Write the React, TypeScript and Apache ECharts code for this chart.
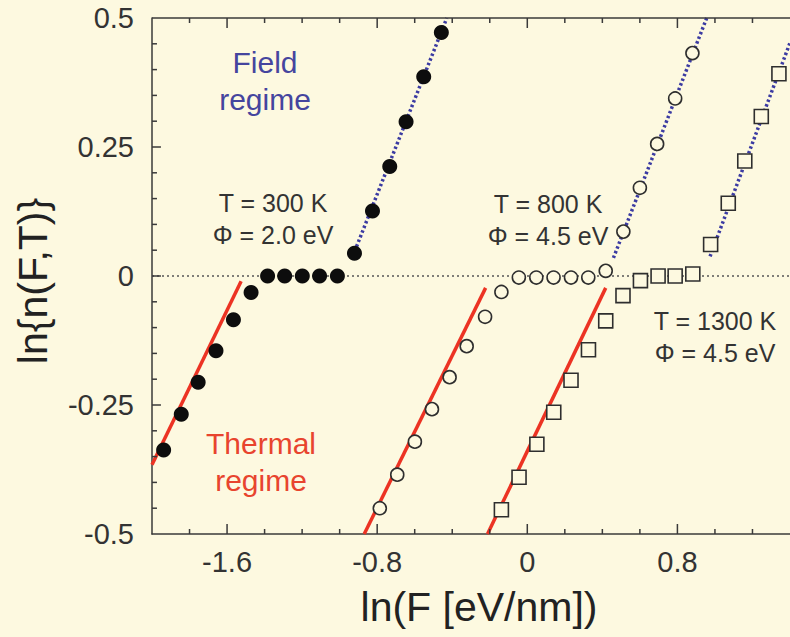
import React, { useEffect, useRef } from "react";
import * as echarts from "echarts";

// ---- Data ----
const xTickLabels = [-1.6, -0.8, 0, 0.8];
const xMinorTicks = [-1.8, -1.4, -1.2, -1.0, -0.6, -0.4, -0.2, 0.2, 0.4, 0.6, 1.0, 1.2];
const yMajorTicks = [-0.25, 0, 0.25];
const yMinorTicks = [-0.45, -0.4, -0.35, -0.3, -0.2, -0.15, -0.1, -0.05, 0.05, 0.1, 0.15, 0.2, 0.3, 0.35, 0.4, 0.45];

// T = 300 K, Phi = 2.0 eV (filled circles)
const t300X = [-1.938, -1.844, -1.754, -1.659, -1.566, -1.472, -1.384, -1.293, -1.199, -1.107, -1.012, -0.921, -0.825, -0.733, -0.646, -0.552, -0.458];
const t300Y = [-0.337, -0.268, -0.206, -0.145, -0.085, -0.032, 0, 0, 0, 0, 0, 0.044, 0.126, 0.212, 0.299, 0.386, 0.472];

// T = 800 K, Phi = 4.5 eV (open circles)
const t800X = [-0.786, -0.693, -0.599, -0.508, -0.414, -0.323, -0.225, -0.138, -0.045, 0.048, 0.14, 0.233, 0.325, 0.418, 0.512, 0.6, 0.692, 0.788, 0.88];
const t800Y = [-0.45, -0.385, -0.321, -0.258, -0.196, -0.136, -0.079, -0.031, -0.003, -0.003, -0.003, -0.003, -0.003, 0.01, 0.086, 0.171, 0.256, 0.344, 0.432];

// T = 1300 K, Phi = 4.5 eV (open squares)
const t1300X = [-0.138, -0.044, 0.051, 0.141, 0.233, 0.326, 0.418, 0.51, 0.603, 0.697, 0.788, 0.882, 0.977, 1.071, 1.159, 1.247, 1.341];
const t1300Y = [-0.453, -0.39, -0.326, -0.264, -0.202, -0.143, -0.087, -0.038, -0.009, 0, 0, 0.004, 0.061, 0.141, 0.223, 0.309, 0.392];

// Fit lines (end points)
const field300 = [[-0.91, 0.057], [-0.429, 0.5]];
const thermal300 = [[-2.0, -0.366], [-1.525, -0.01]];
const field800 = [[0.459, 0.035], [0.956, 0.5]];
const thermal800 = [[-0.869, -0.5], [-0.222, -0.023]];
const field1300 = [[0.974, 0.038], [1.4, 0.452]];
const thermal1300 = [[-0.212, -0.5], [0.418, -0.023]];
const zeroLine = [[-2.0, 0], [1.4, 0]];

const X_MIN = -2.0;
const X_MAX = 1.4;
const Y_MIN = -0.5;
const Y_MAX = 0.5;

// layout
const W = 790;
const H = 637;
const G_LEFT = 152;
const G_RIGHT = -4;
const G_TOP = 18;
const G_BOTTOM = 103;
const PLOT_W = W - G_LEFT - G_RIGHT;
const PLOT_H = H - G_TOP - G_BOTTOM;
const PX_TO_X = (X_MAX - X_MIN) / PLOT_W;
const PX_TO_Y = (Y_MAX - Y_MIN) / PLOT_H;

const BG = "#fdf9e0";
const AXIS = "#3a3a3a";
const TEXT = "#333333";
const RED = "#ec3323";
const BLUE = "#3b3ba2";
const FONT = "'Liberation Sans', Arial, Helvetica, sans-serif";

const zip = (xs: number[], ys: number[]) => xs.map((x, i) => [x, ys[i]]);
const fmt = (v: number) => (Math.abs(v) < 1e-9 ? "0" : String(v));

export default function App() {
  const ref = useRef<HTMLDivElement>(null);

  useEffect(() => {
    if (!ref.current) return;
    const chart = echarts.init(ref.current, undefined, { renderer: "svg" });

    const frameSeg = (pts: number[][]) => ({
      type: "line",
      data: pts,
      symbol: "none",
      silent: true,
      clip: false,
      lineStyle: { color: AXIS, width: 1.5 },
      z: 3,
    });
    const frame: any[] = [frameSeg([[X_MIN, Y_MAX], [X_MAX, Y_MAX]])];
    const xTick = (v: number, len: number) => {
      frame.push(frameSeg([[v, Y_MIN], [v, Y_MIN + len * PX_TO_Y]]));
      frame.push(frameSeg([[v, Y_MAX], [v, Y_MAX - len * PX_TO_Y]]));
    };
    xTickLabels.forEach((v) => xTick(v, 10));
    xMinorTicks.forEach((v) => xTick(v, 5));
    const yTick = (v: number, len: number) => frame.push(frameSeg([[X_MIN, v], [X_MIN + len * PX_TO_X, v]]));
    yMajorTicks.forEach((v) => yTick(v, 9));
    yMinorTicks.forEach((v) => yTick(v, 5));

    const option: any = {
      animation: false,
      backgroundColor: BG,
      grid: { left: G_LEFT, right: G_RIGHT, top: G_TOP, bottom: G_BOTTOM },
      xAxis: {
        type: "value",
        position: "bottom",
        min: X_MIN,
        max: X_MAX,
        interval: 0.4,
        splitLine: { show: false },
        axisLine: { show: true, onZero: false, lineStyle: { color: AXIS, width: 1.5 } },
        axisTick: { show: false },
        axisLabel: { show: true, customValues: xTickLabels, formatter: fmt, fontSize: 29, fontFamily: FONT, color: TEXT, margin: 13 },
      },
      yAxis: {
        type: "value",
        position: "left",
        min: Y_MIN,
        max: Y_MAX,
        interval: 0.25,
        splitLine: { show: false },
        axisLine: { show: true, onZero: false, lineStyle: { color: AXIS, width: 1.5 } },
        axisTick: { show: false },
        axisLabel: { fontSize: 29, fontFamily: FONT, color: TEXT, margin: 18, formatter: fmt },
      },
      series: [
        ...frame,
        {
          type: "line",
          data: zeroLine,
          symbol: "none",
          silent: true,
          lineStyle: { color: "#555", width: 1.5, type: [2, 3] },
          z: 1,
        },
        ...[thermal300, thermal800, thermal1300].map((d) => ({
          type: "line",
          data: d,
          symbol: "none",
          lineStyle: { color: RED, width: 3.5 },
          z: 2,
        })),
        ...[field300, field800, field1300].map((d) => ({
          type: "line",
          data: d,
          symbol: "none",
          lineStyle: { color: BLUE, width: 3.5, type: [2.5, 2.5] },
          z: 2,
        })),
        {
          type: "scatter",
          name: "T = 300 K",
          data: zip(t300X, t300Y),
          symbol: "circle",
          symbolSize: 15,
          itemStyle: { color: "#0d0d0d", opacity: 1 },
          z: 5,
        },
        {
          type: "scatter",
          name: "T = 800 K",
          data: zip(t800X, t800Y),
          symbol: "circle",
          symbolSize: 13,
          itemStyle: { color: BG, borderColor: "#2e2e2e", borderWidth: 1.6, opacity: 1 },
          z: 5,
        },
        {
          type: "scatter",
          name: "T = 1300 K",
          data: zip(t1300X, t1300Y),
          symbol: "rect",
          symbolSize: 14,
          itemStyle: { color: BG, borderColor: "#2e2e2e", borderWidth: 1.6, opacity: 1 },
          z: 5,
        },
      ],
      graphic: [
        {
          type: "text",
          x: 265,
          y: 81,
          style: { text: "Field\nregime", fill: "#45459e", font: `30px ${FONT}`, lineHeight: 37, align: "center", verticalAlign: "middle" },
          z: 10,
        },
        {
          type: "text",
          x: 261,
          y: 462,
          style: { text: "Thermal\nregime", fill: "#e8442e", font: `30px ${FONT}`, lineHeight: 37, align: "center", verticalAlign: "middle" },
          z: 10,
        },
        {
          type: "text",
          x: 273,
          y: 219,
          style: { text: "T = 300 K\nΦ = 2.0 eV", fill: TEXT, font: `25px ${FONT}`, lineHeight: 32, align: "center", verticalAlign: "middle" },
          z: 10,
        },
        {
          type: "text",
          x: 548,
          y: 220,
          style: { text: "T = 800 K\nΦ = 4.5 eV", fill: TEXT, font: `25px ${FONT}`, lineHeight: 32, align: "center", verticalAlign: "middle" },
          z: 10,
        },
        {
          type: "text",
          x: 715,
          y: 337,
          style: { text: "T = 1300 K\nΦ = 4.5 eV", fill: TEXT, font: `25px ${FONT}`, lineHeight: 32, align: "center", verticalAlign: "middle" },
          z: 10,
        },
        {
          type: "text",
          x: 479,
          y: 607,
          style: { text: "ln(F [eV/nm])", fill: "#222", font: `41px ${FONT}`, align: "center", verticalAlign: "middle" },
          z: 10,
        },
        {
          type: "text",
          x: 33,
          y: 281,
          rotation: Math.PI / 2,
          style: { text: "ln{n(F,T)}", fill: "#222", font: `41px ${FONT}`, align: "center", verticalAlign: "middle" },
          z: 10,
        },
      ],
    };

    chart.setOption(option);
    return () => chart.dispose();
  }, []);

  return (
    <div style={{ position: "fixed", left: 0, top: 0, width: W, height: H, overflow: "hidden" }}>
      <div ref={ref} style={{ width: W, height: H }} />
    </div>
  );
}
